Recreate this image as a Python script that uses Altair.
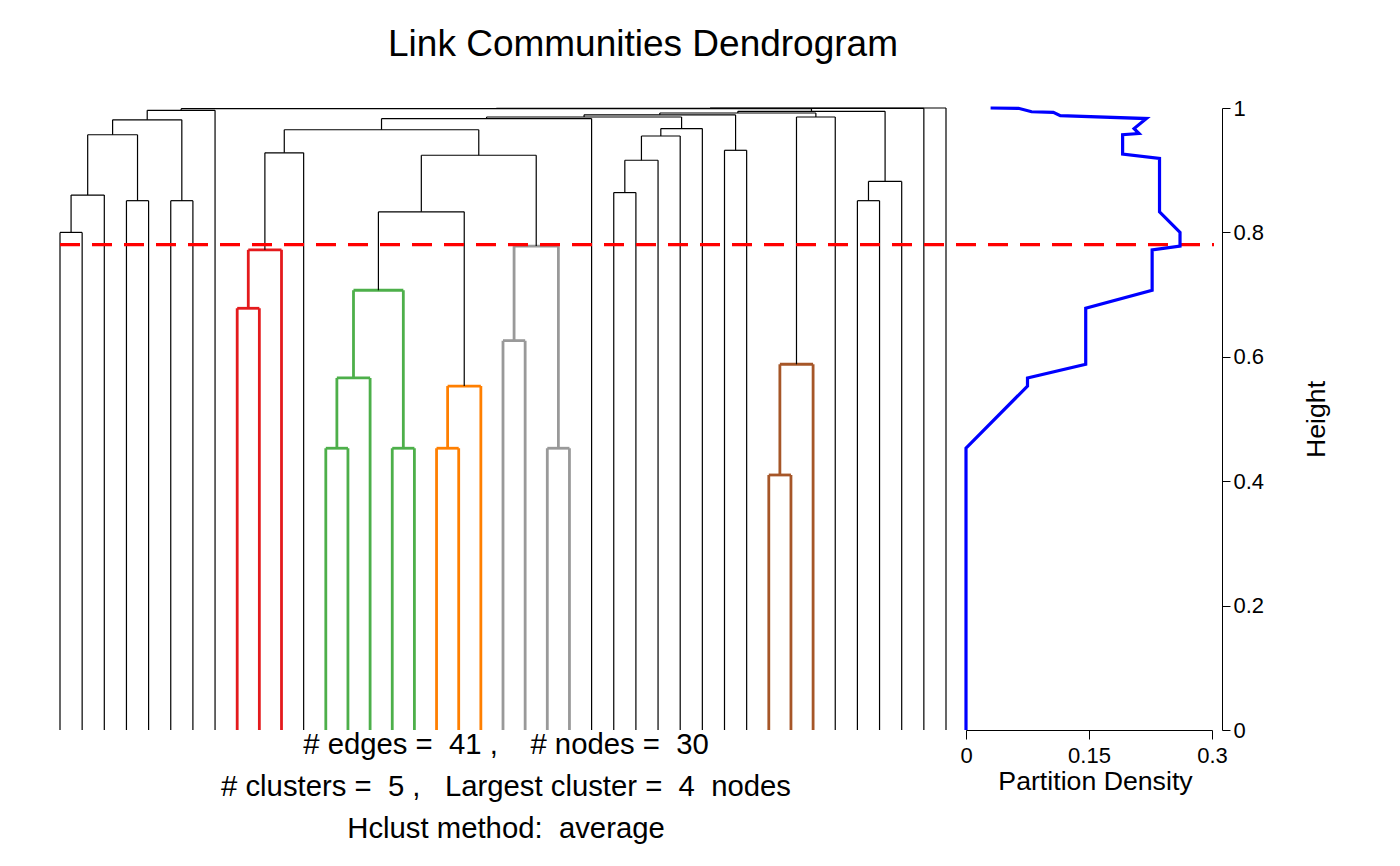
import altair as alt
import pandas as pd

# ---------------- data ----------------
n_leaves = 41

# merges of the link dendrogram: name, left child, right child, height
# (int child = leaf position in plotting order, str child = earlier merge)
merge_names = ["L01", "L012", "L34", "L0to4", "L56", "L0to6", "G1",
               "R1", "R2", "RB",
               "Ga", "Gb", "Gc", "Gt", "Oa", "Ot", "GO",
               "Ya", "Yb", "Yt", "GOY", "A", "A1",
               "B1", "B2", "B3", "B4", "A2", "C", "A3",
               "N1", "N2", "D", "A4", "E1", "E", "A5", "A6", "A7", "A8"]
merge_left = [0, "L01", 3, "L012", 5, "L0to4", "L0to6",
              8, "R1", "R2",
              12, "Ga", 15, "Gb", 17, "Oa", "Gt",
              20, 22, "Ya", "GO", "RB", "A",
              25, "B1", "B2", "B3", "A1", 30, "A2",
              32, "N1", "N2", "A3", 36, "E1", "A4", "G1", "A6", "A7"]
merge_right = [1, 2, 4, "L34", 6, "L56", 7,
               9, 10, 11,
               13, 14, 16, "Gc", 18, 19, "Ot",
               21, 23, "Yb", "Yt", "GOY", 24,
               26, 27, 28, 29, "B4", 31, "C",
               33, 34, 35, "D", 37, 38, "E", "A5", 39, 40]
merge_heights = [0.800, 0.860, 0.851, 0.957, 0.851, 0.981, 0.9963,
                 0.678, 0.772, 0.928,
                 0.453, 0.566, 0.453, 0.707, 0.453, 0.553, 0.833,
                 0.626, 0.453, 0.778, 0.924, 0.965, 0.983,
                 0.864, 0.916, 0.955, 0.967, 0.9855, 0.932, 0.989,
                 0.410, 0.588, 0.9855, 0.992, 0.851, 0.882, 0.9946, 0.9989, 0.9995, 1.0]

# the five communities at the cut and their colours
cluster_red = ["R1", "R2"]
cluster_green = ["Ga", "Gb", "Gc", "Gt"]
cluster_orange = ["Oa", "Ot"]
cluster_gray = ["Ya", "Yb", "Yt"]
cluster_brown = ["N1", "N2"]
cluster_palette = ["#E41A1C", "#4DAF4A", "#FF7F00", "#999999", "#A65628"]

cut_height = 0.7805

# partition density curve (height, density)
pd_heights = [0.0, 0.453, 0.553, 0.566, 0.588, 0.678, 0.707, 0.772, 0.778, 0.800,
              0.833, 0.919, 0.926, 0.957, 0.959, 0.967, 0.983, 0.9876, 0.993,
              0.994, 0.9995, 1.0]
pd_values = [0.0, 0.0, 0.075, 0.075, 0.146, 0.146, 0.227, 0.227, 0.261, 0.261,
             0.236, 0.236, 0.191, 0.191, 0.211, 0.205, 0.220, 0.115, 0.1065,
             0.080, 0.064, 0.030]

height_ticks = [0, 0.2, 0.4, 0.6, 0.8, 1.0]
density_ticks = [0, 0.15, 0.3]

title_text = "Link Communities Dendrogram"
info_lines = ["# edges =  41 ,    # nodes =  30",
              "# clusters =  5 ,   Largest cluster =  4  nodes",
              "Hclust method:  average"]

# ---------------- build segment table ----------------
FONT = "Liberation Sans"
colour_of = {}
for members, col in zip([cluster_red, cluster_green, cluster_orange, cluster_gray, cluster_brown],
                        cluster_palette):
    for m in members:
        colour_of[m] = col

pos = {}
hgt = {}
for i in range(n_leaves):
    pos[i] = float(i)
    hgt[i] = 0.0

rows = []
for name, l, r, h in zip(merge_names, merge_left, merge_right, merge_heights):
    col = colour_of.get(name, "#000000")
    w = 2.8 if name in colour_of else 1.2
    rows.append(dict(x=pos[l], x2=pos[r], y=h, y2=h, c=col, w=w))
    rows.append(dict(x=pos[l], x2=pos[l], y=hgt[l], y2=h, c=col, w=w))
    rows.append(dict(x=pos[r], x2=pos[r], y=hgt[r], y2=h, c=col, w=w))
    pos[name] = (pos[l] + pos[r]) / 2
    hgt[name] = h

seg = pd.DataFrame(rows)
dens = pd.DataFrame({"h": pd_heights, "pd": pd_values, "i": range(len(pd_values))})
cut = pd.DataFrame({"h": [cut_height]})

W, H = 1182, 622
yaxis = alt.Axis(orient="right", values=height_ticks, format="~g", tickSize=8,
                 labelFontSize=22, labelFont=FONT, labelColor="black", labelPadding=3,
                 labelAlign="left", labelBaseline="middle", labelFlush=False,
                 tickColor="black", domainColor="black", grid=False, title="Height",
                 titleFont=FONT, titleFontSize=26.7, titleFontWeight="normal",
                 titleColor="black", titleAngle=270, titleX=94, titleBaseline="middle")
yscale = alt.Scale(domain=[0, 1], nice=False, zero=False)

dendro = alt.Chart(seg).mark_rule(strokeCap="butt").encode(
    x=alt.X("x:Q", scale=alt.Scale(domain=[0, 40], range=[20, 906], nice=False, zero=False), axis=None),
    x2="x2:Q",
    y=alt.Y("y:Q", scale=yscale, axis=yaxis),
    y2="y2:Q",
    color=alt.Color("c:N", scale=None),
    strokeWidth=alt.StrokeWidth("w:Q", scale=None),
)

cutline = alt.Chart(cut).mark_rule(color="#FF0000", strokeWidth=3.2, strokeDash=[20, 12]).encode(
    x=alt.value(20), x2=alt.value(1174),
    y=alt.Y("h:Q", scale=yscale, axis=yaxis),
)

density = alt.Chart(dens).mark_line(color="#0000FF", strokeWidth=3.2, strokeJoin="miter").encode(
    x=alt.X("pd:Q", scale=alt.Scale(domain=[0, 0.3], range=[926, 1172], nice=False, zero=False),
            axis=alt.Axis(values=density_ticks, labelExpr="toString(datum.value)", tickSize=9,
                          labelFontSize=22, labelFont=FONT, labelColor="black", labelPadding=6,
                          labelFlush=False, tickColor="black", domainColor="black", grid=False,
                          title="Partition Density", titleFont=FONT, titleFontSize=26.7,
                          titleFontWeight="normal", titleColor="black", titleY=51,
                          titleX=1055, titleBaseline="middle")),
    y=alt.Y("h:Q", scale=yscale, axis=yaxis),
    order="i:Q",
)

title = alt.Chart(pd.DataFrame({"t": [title_text]})).mark_text(
    font=FONT, fontSize=37, color="black", align="center", baseline="middle"
).encode(x=alt.value(603), y=alt.value(-63), text="t:N")

info_layers = []
for k, line in enumerate(info_lines):
    info_layers.append(
        alt.Chart(pd.DataFrame({"t": [line.replace(" ", "\u00a0")]})).mark_text(
            font=FONT, fontSize=29.3, color="black", align="center", baseline="middle"
        ).encode(x=alt.value(466), y=alt.value(637 + 42 * k), text="t:N")
    )

chart = alt.layer(dendro, cutline, density, title, *info_layers).resolve_scale(
    x="independent"
).properties(
    width=W, height=H,
    autosize=alt.AutoSizeParams(type="none"),
    padding={"left": 40, "top": 108, "right": 178, "bottom": 136},
    background="white",
).configure_view(stroke=None)

chart.save("out.html", embed_options={"renderer": "svg", "actions": False})
